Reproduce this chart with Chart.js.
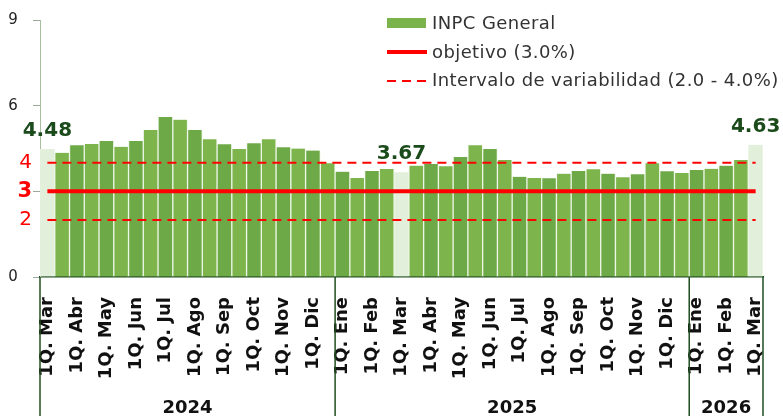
<!DOCTYPE html>
<html>
<head>
<meta charset="utf-8">
<script src="https://cdn.jsdelivr.net/npm/chart.js@4"></script>
<style>
  html, body { margin: 0; padding: 0; background: #fff; }
  #wrap { width: 783px; height: 416px; }
</style>
</head>
<body>
<div id="wrap"><canvas id="inpc" width="783" height="416"></canvas></div>
<script>
// quincenas, de 1Q. Mar 2024 a 1Q. Mar 2026
const categorias = [
  '1Q. Mar', '2Q. Mar', '1Q. Abr', '2Q. Abr', '1Q. May', '2Q. May', '1Q. Jun', '2Q. Jun',
  '1Q. Jul', '2Q. Jul', '1Q. Ago', '2Q. Ago', '1Q. Sep', '2Q. Sep', '1Q. Oct', '2Q. Oct',
  '1Q. Nov', '2Q. Nov', '1Q. Dic', '2Q. Dic',
  '1Q. Ene', '2Q. Ene', '1Q. Feb', '2Q. Feb', '1Q. Mar', '2Q. Mar', '1Q. Abr', '2Q. Abr',
  '1Q. May', '2Q. May', '1Q. Jun', '2Q. Jun', '1Q. Jul', '2Q. Jul', '1Q. Ago', '2Q. Ago',
  '1Q. Sep', '2Q. Sep', '1Q. Oct', '2Q. Oct', '1Q. Nov', '2Q. Nov', '1Q. Dic', '2Q. Dic',
  '1Q. Ene', '2Q. Ene', '1Q. Feb', '2Q. Feb', '1Q. Mar'
];
const inpcGeneral = [
  4.48, 4.35, 4.61, 4.66, 4.76, 4.56, 4.76, 5.15, 5.60, 5.51, 5.15, 4.82, 4.65, 4.48, 4.68, 4.82,
  4.54, 4.50, 4.43, 3.98,
  3.69, 3.47, 3.71, 3.78, 3.67, 3.90, 3.96, 3.88, 4.20, 4.61, 4.48, 4.10, 3.51, 3.47, 3.46, 3.62,
  3.71, 3.77, 3.62, 3.49, 3.60, 3.98, 3.70, 3.64,
  3.75, 3.79, 3.90, 4.10, 4.63
];
const anios = ['2024', '2025', '2026'];
const quincenasPorAnio = [20, 24, 5];
const destacados = [0, 24, 48];   // barras con etiqueta
const objetivo = 3.0;
const intervalo = [2.0, 4.0];
const ticksY = [0, 2, 3, 4, 6, 9];

const ultimo = categorias.length - 1;
// líneas de referencia: solo extremos (primera y última quincena), unidos con spanGaps
const lineaPlana = v => categorias.map((_, i) => (i === 0 || i === ultimo) ? v : null);

const VERDE_OSC = '#6DAA47';
const VERDE_CLA = '#7DB44C';
const VERDE_TENUE = '#E2EFDA';
const ROJO = '#FF0000';
const FUENTE = "'DejaVu Sans', sans-serif";

const valorTick = c => (c && c.tick) ? c.tick.value : null;

// etiquetas, leyenda y separadores de años
const decoracion = {
  id: 'decoracion',
  afterDraw(chart) {
    const ctx = chart.ctx;
    const area = chart.chartArea;
    const xs = chart.scales.x;
    const bars = chart.getDatasetMeta(0).data;
    const paso = (area.right - area.left) / categorias.length;

    ctx.save();
    // valores destacados
    ctx.fillStyle = '#1B4A1B';
    ctx.font = 'bold 20px ' + FUENTE;
    ctx.textAlign = 'center';
    ctx.textBaseline = 'alphabetic';
    destacados.forEach(i => {
      const b = bars[i];
      ctx.fillText(inpcGeneral[i].toFixed(2), b.x, b.y - 13);
    });

    // separadores y años
    ctx.strokeStyle = '#1F4D1F';
    ctx.lineWidth = 1.5;
    ctx.fillStyle = '#111';
    ctx.font = 'bold 18px ' + FUENTE;
    let inicio = 0;
    const bordes = [xs.getPixelForValue(0) - paso / 2];
    anios.forEach((a, k) => {
      const fin = inicio + quincenasPorAnio[k] - 1;
      const x0 = xs.getPixelForValue(inicio) - paso / 2;
      const x1 = xs.getPixelForValue(fin) + paso / 2;
      bordes.push(x1);
      ctx.fillText(a, (x0 + x1) / 2, 413);
      inicio = fin + 1;
    });
    bordes.forEach(x => {
      ctx.beginPath();
      ctx.moveTo(x, area.bottom);
      ctx.lineTo(x, chart.height);
      ctx.stroke();
    });

    // leyenda
    const ds = chart.data.datasets;
    const lx = 387, tx = 432;
    ctx.font = '18px ' + FUENTE;
    ctx.letterSpacing = '0.4px';
    ctx.textAlign = 'left';
    ctx.textBaseline = 'middle';

    ctx.fillStyle = '#7AB24B';
    ctx.fillRect(lx, 18, 39, 10);
    ctx.fillStyle = '#333';
    ctx.fillText(ds[0].label, tx, 24);

    ctx.strokeStyle = ROJO;
    ctx.lineWidth = 4;
    ctx.beginPath(); ctx.moveTo(lx, 52); ctx.lineTo(lx + 40, 52); ctx.stroke();
    ctx.fillText(ds[1].label, tx, 53);

    ctx.lineWidth = 2;
    ctx.setLineDash([9, 6]);
    ctx.beginPath(); ctx.moveTo(lx, 81); ctx.lineTo(lx + 40, 81); ctx.stroke();
    ctx.setLineDash([]);
    ctx.fillText(ds[2].label, tx, 81);
    ctx.restore();
  }
};

const lineaBase = {
  type: 'line',
  order: 1,
  borderColor: ROJO,
  pointRadius: 0,
  spanGaps: true,
  clip: false
};

const chart = new Chart(document.getElementById('inpc'), {
  data: {
    labels: categorias,
    datasets: [
      {
        type: 'bar',
        label: 'INPC General',
        data: inpcGeneral,
        order: 2,
        backgroundColor: c => destacados.includes(c.dataIndex) ? VERDE_TENUE : (c.dataIndex % 2 === 0 ? VERDE_OSC : VERDE_CLA),
        borderColor: 'rgba(235,245,228,0.9)',
        borderWidth: { left: 1, right: 1, top: 0, bottom: 0 },
        categoryPercentage: 1,
        barPercentage: 1
      },
      Object.assign({}, lineaBase, {
        label: 'objetivo (3.0%)',
        data: lineaPlana(objetivo),
        borderWidth: 4
      }),
      Object.assign({}, lineaBase, {
        label: 'Intervalo de variabilidad (2.0 - 4.0%)',
        data: lineaPlana(intervalo[1]),
        borderWidth: 2,
        borderDash: [9, 6]
      }),
      Object.assign({}, lineaBase, {
        label: 'Intervalo inferior',
        data: lineaPlana(intervalo[0]),
        borderWidth: 2,
        borderDash: [9, 6]
      })
    ]
  },
  options: {
    responsive: false,
    animation: false,
    devicePixelRatio: 1,
    layout: { padding: { top: 20, right: 20, left: 0, bottom: 0 } },
    plugins: { legend: { display: false }, tooltip: { enabled: false } },
    scales: {
      x: {
        type: 'category',
        offset: true,
        grid: { display: false },
        border: { color: '#1F4D1F', width: 1.5 },
        ticks: {
          autoSkip: false,
          minRotation: 90,
          maxRotation: 90,
          padding: 12,
          color: '#111',
          font: { family: FUENTE, size: 18, weight: 'bold' },
          callback: function (v, i) { return i % 2 === 0 ? this.getLabelForValue(v) : ''; }
        },
        afterFit: s => { s.height = 139; s.paddingLeft = 0; s.paddingRight = 0; }
      },
      y: {
        min: 0,
        max: 9,
        afterBuildTicks: s => { s.ticks = ticksY.map(v => ({ value: v })); },
        afterFit: s => { s.width = 40; },
        border: { color: '#A8BDA0', width: 1 },
        grid: {
          drawOnChartArea: false,
          tickLength: 7,
          color: c => [2, 4].includes(valorTick(c)) ? 'rgba(0,0,0,0)' : '#9AA99A'
        },
        ticks: {
          padding: 1,
          color: c => [2, 3, 4].includes(valorTick(c)) ? ROJO : '#222',
          font: c => {
            const v = valorTick(c);
            if (v === 3) return { family: FUENTE, size: 21, weight: 'bold' };
            if (v === 2 || v === 4) return { family: FUENTE, size: 20 };
            return { family: FUENTE, size: 15 };
          },
          callback: v => [2, 3, 4].includes(v) ? String(v) : v + '   '
        }
      }
    }
  },
  plugins: [decoracion]
});
</script>
</body>
</html>
